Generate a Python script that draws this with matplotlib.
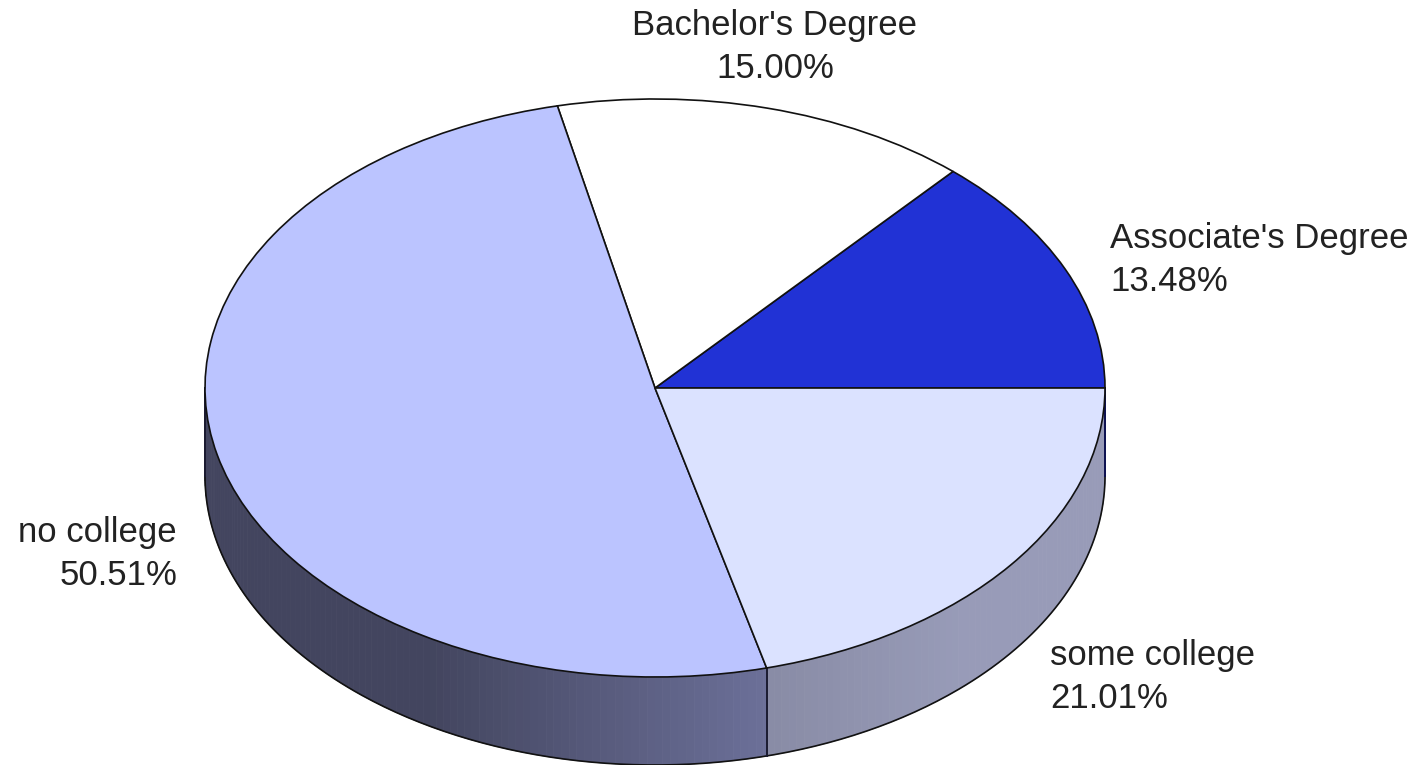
import numpy as np
import matplotlib
matplotlib.use('Agg')
import matplotlib.pyplot as plt
from matplotlib.colors import to_rgb
from matplotlib.transforms import Affine2D

# ===== DATA =====
categories = ["Associate's Degree", "Bachelor's Degree", "no college", "some college"]
shares = [13.48, 15.00, 50.51, 21.01]
slice_colors = ['#2132d5', '#ffffff', '#bbc4ff', '#dbe2ff']

# ===== LAYOUT (pixels) =====
W, H = 1421, 765
CX, CY = 655, 388
RX, RY = 450, 289
DEPTH = 88
EDGE = '#111111'
TEXT = '#222222'
FONT_SIZE = 25

# label anchor: x, y, horizontal alignment
label_pos = [(1110, 260, 'left'), (775, 47, 'center'), (177, 554, 'right'), (1050, 677, 'left')]

# wall brightness against x position on screen
shade_x = [205, 430, 765, 770, 960, 1105]
shade_f = [0.36, 0.36, 0.58, 0.63, 0.70, 0.70]
wall_tint = np.array([0.99, 0.98, 1.03])

plt.rcParams['font.family'] = ['Liberation Sans', 'DejaVu Sans']
fig = plt.figure(figsize=(W / 100, H / 100), dpi=100)
ax = fig.add_axes([0, 0, 1, 1])

# slice boundaries in degrees, starting at 3 o'clock and going counter-clockwise
bounds = np.concatenate([[0], np.cumsum(shares)]) / sum(shares) * 360

def rim(deg):
    a = np.radians(deg)
    return CX + RX * np.cos(a), CY - RY * np.sin(a)

# side wall, only the front half (180-360 deg) shows
for i, col in enumerate(slice_colors):
    lo, hi = max(bounds[i], 180), bounds[i + 1]
    if hi <= lo:
        continue
    base = np.array(to_rgb(col))
    steps = np.arange(lo, hi, 1.0).tolist() + [hi]
    for a0, a1 in zip(steps[:-1], steps[1:]):
        x0, y0 = rim(a0)
        x1, y1 = rim(a1)
        f = np.interp((x0 + x1) / 2, shade_x, shade_f)
        c = tuple(np.clip(base * f * wall_tint, 0, 1))
        ax.fill([x0, x1, x1, x0], [y0, y1, y1 + DEPTH, y0 + DEPTH], color=c, lw=0.6, zorder=1)

# outline of the wall
arc = np.linspace(180, 360, 300)
xs, ys = rim(arc)
ax.plot(xs, ys + DEPTH, color=EDGE, lw=1.2, zorder=2)
for b in [180, bounds[3], 360]:
    x, y = rim(b)
    ax.plot([x, x], [y, y + DEPTH], color='#1a1a30' if b != 360 else '#0c1050', lw=1.4, zorder=2)

# top face
wedges, _ = ax.pie(shares, colors=slice_colors, startangle=0, counterclock=True,
                   wedgeprops=dict(edgecolor=EDGE, linewidth=1.2, zorder=3))
top = Affine2D().scale(RX, -RY).translate(CX, CY) + ax.transData
for w in wedges:
    w.set_transform(top)
    w.set_clip_on(False)

ax.set_aspect('auto')
ax.set_xlim(0, W)
ax.set_ylim(H, 0)
ax.axis('off')

for name, share, (x, y, ha) in zip(categories, shares, label_pos):
    ax.text(x, y, f"{name}\n{share:.2f}%", ha=ha, va='center', multialignment=ha,
            fontsize=FONT_SIZE, color=TEXT, linespacing=1.36, zorder=4)

fig.savefig('out.png', dpi=100)
